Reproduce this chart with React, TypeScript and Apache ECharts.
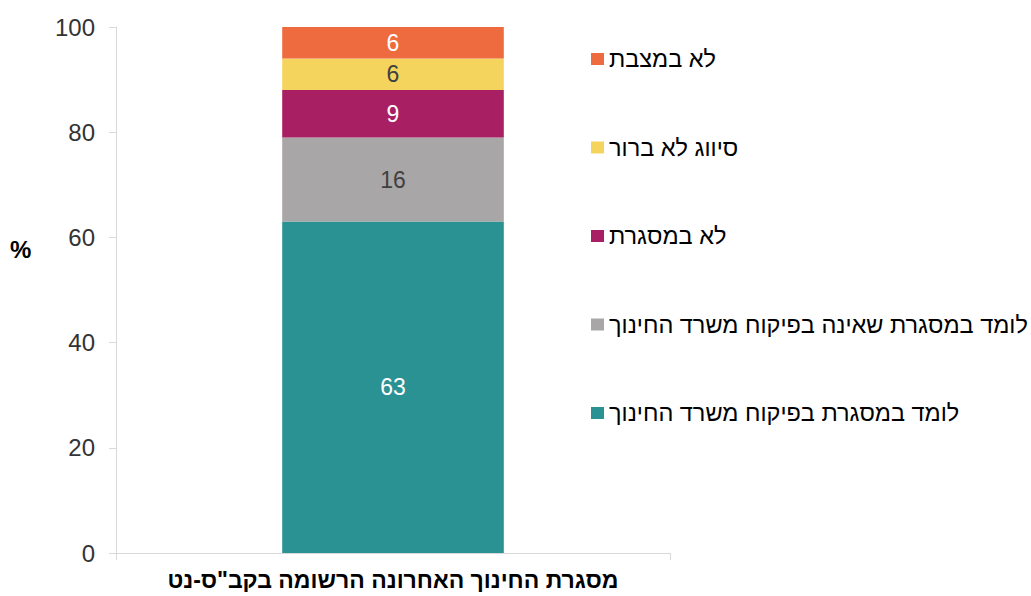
import React, { useEffect, useRef } from "react";
import * as echarts from "echarts";

const categories = ['מסגרת החינוך האחרונה הרשומה בקב"ס-נט'];
const seriesNames = [
  "לומד במסגרת בפיקוח משרד החינוך",
  "לומד במסגרת שאינה בפיקוח משרד החינוך",
  "לא במסגרת",
  "סיווג לא ברור",
  "לא במצבת",
];
const seriesValues = [[63], [16], [9], [6], [6]];
const seriesColors = ["#2A9293", "#A8A6A6", "#A81F63", "#F5D45E", "#EE6A3F"];
const labelColors = ["#ffffff", "#404040", "#ffffff", "#404040", "#ffffff"];
const yTicks = [0, 20, 40, 60, 80, 100];
const yUnit = "%";

const FONT = "'Liberation Sans', Arial, sans-serif";

export default function App() {
  const ref = useRef<HTMLDivElement>(null);
  useEffect(() => {
    if (!ref.current) return;
    const chart = echarts.init(ref.current, undefined, { renderer: "svg" });
    chart.setOption({
      animation: false,
      textStyle: { fontFamily: FONT },
      grid: { left: 116, right: 361, top: 27, bottom: 43, containLabel: false },
      graphic: [
        {
          type: "text",
          left: 10,
          top: 237,
          style: { text: yUnit, fill: "#000", fontSize: 24, fontWeight: "bold", fontFamily: FONT },
        },
      ],
      xAxis: {
        type: "category",
        data: categories,
        axisLine: { show: true, lineStyle: { color: "#d9d9d9", width: 1 } },
        axisTick: { show: true, length: 7, lineStyle: { color: "#d9d9d9" } },
        axisLabel: {
          color: "#000",
          fontSize: 23,
          fontWeight: "bold",
          fontFamily: FONT,
          margin: 15,
        },
      },
      yAxis: {
        type: "value",
        min: yTicks[0],
        max: yTicks[yTicks.length - 1],
        interval: 20,
        axisLine: { show: true, lineStyle: { color: "#d9d9d9", width: 1 } },
        axisTick: { show: true, length: 7, lineStyle: { color: "#d9d9d9" } },
        splitLine: { show: false },
        axisLabel: { color: "#333", fontSize: 24, fontFamily: FONT, margin: 21 },
      },
      legend: {
        orient: "vertical",
        left: 586,
        top: 42,
        itemWidth: 13,
        itemHeight: 12,
        itemGap: 64.5,
        icon: "rect",
        data: [...seriesNames].reverse(),
        textStyle: { color: "#000", fontSize: 23.5, fontFamily: FONT },
        selectedMode: false,
      },
      series: seriesNames.map((name, i) => ({
        name,
        type: "bar",
        stack: "total",
        data: seriesValues[i],
        barWidth: "40%",
        itemStyle: { color: seriesColors[i] },
        label: {
          show: true,
          position: "inside",
          color: labelColors[i],
          fontSize: 23,
          fontFamily: FONT,
        },
      })),
    });
    return () => chart.dispose();
  }, []);
  return (
    <div
      ref={ref}
      style={{ position: "fixed", left: 0, top: 0, width: 1031, height: 596, background: "#fff" }}
    />
  );
}
